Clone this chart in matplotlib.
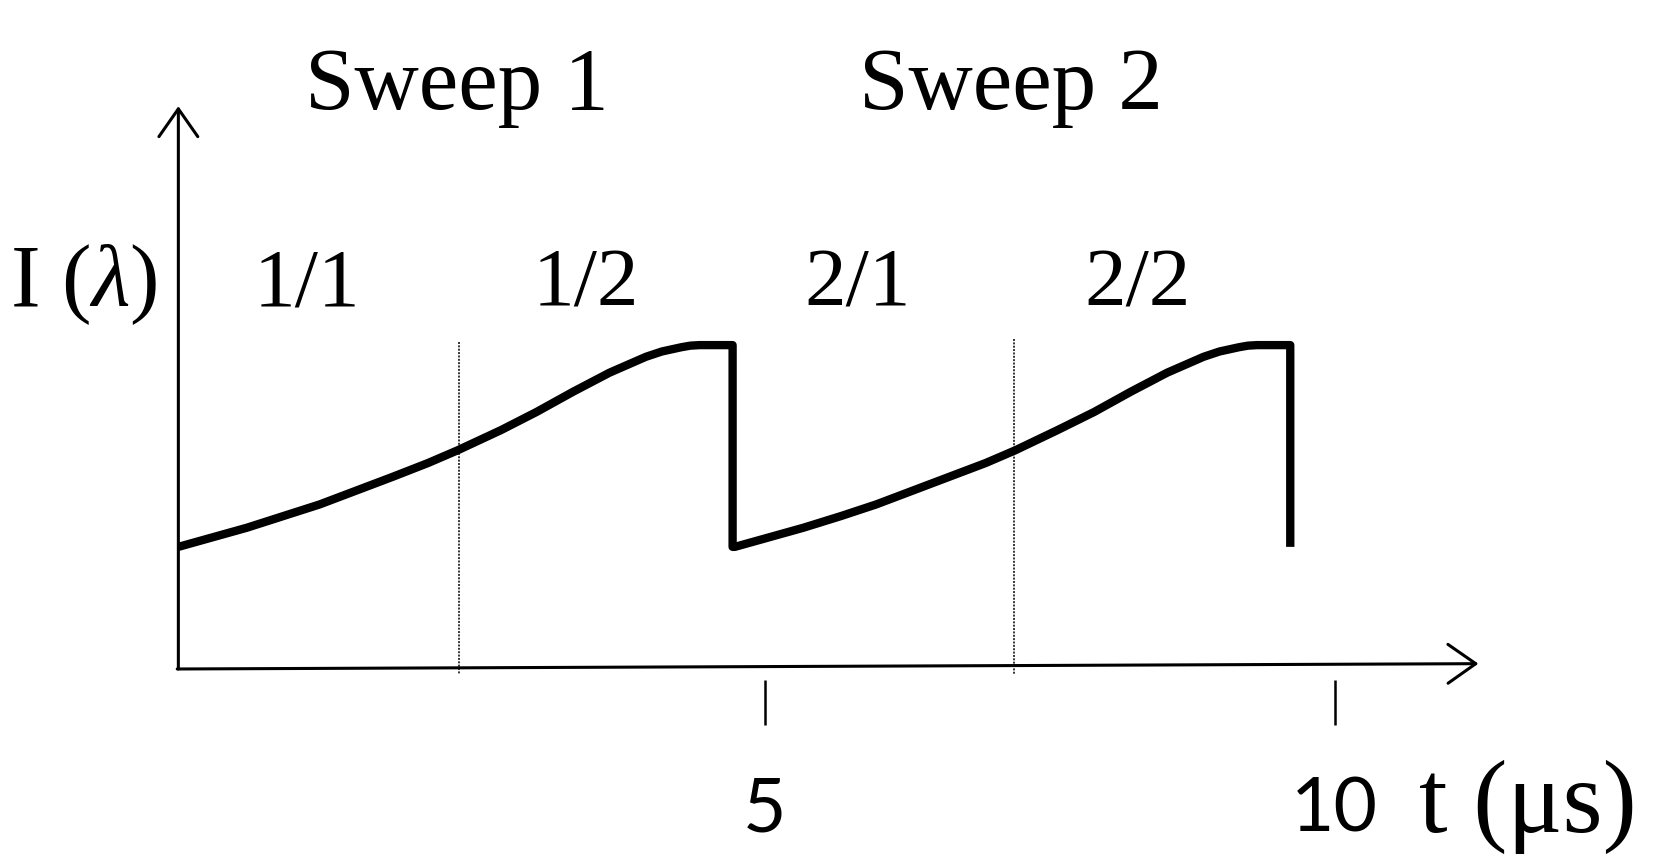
import matplotlib
matplotlib.use("Agg")
import matplotlib.pyplot as plt

plt.rcParams["mathtext.fontset"] = "custom"
plt.rcParams["mathtext.rm"] = "Liberation Serif"
plt.rcParams["mathtext.it"] = "Liberation Serif:italic"

SERIF = "Liberation Serif"
SANS = "Lato"

# intensity during sweep 1 (t in us, I in arbitrary units)
sweep1_t = [-0.14, 0.46, 0.78, 1.10, 1.42, 1.74, 2.05, 2.31, 2.69, 3.00,
            3.32, 3.64, 3.96, 4.10, 4.27, 4.35, 4.43, 4.72]
sweep1_i = [1.15, 1.33, 1.44, 1.55, 1.68, 1.81, 1.94, 2.06, 2.25, 2.42,
            2.61, 2.79, 2.94, 2.99, 3.03, 3.045, 3.05, 3.05]

# intensity during sweep 2
sweep2_t = [4.74, 5.34, 5.67, 5.98, 6.30, 6.62, 6.94, 7.20, 7.57, 7.89,
            8.21, 8.53, 8.85, 8.99, 9.16, 9.24, 9.32, 9.61]
sweep2_i = [1.15, 1.33, 1.44, 1.55, 1.68, 1.81, 1.94, 2.06, 2.25, 2.42,
            2.61, 2.79, 2.94, 2.99, 3.03, 3.045, 3.05, 3.05]

# baseline the curve falls back to at the end of each sweep
reset_level = 1.15

# half-sweep boundaries (dotted) and their top
half_marks = [2.32, 7.19]
half_tops = [3.08, 3.11]

tick_pos = [5, 10]
tick_labels = ["5", "10"]

sweep_names = ["Sweep 1", "Sweep 2"]
sweep_centers = [2.30, 7.16]
part_names = ["1/1", "1/2", "2/1", "2/2"]
part_centers = [0.99, 3.43, 5.82, 8.27]

fig = plt.figure(figsize=(16.65, 8.58), dpi=100)
ax = fig.add_axes([0, 0, 1, 1])
ax.set_xlim(-1.704, 12.896)
ax.set_ylim(-1.78, 6.30)
ax.axis("off")

# axes drawn as arrows
t0 = sweep1_t[0]
arrow = dict(arrowstyle="->,head_length=1.0,head_width=0.7", lw=2.2,
             color="black", mutation_scale=20, shrinkA=0, shrinkB=0)
ax.annotate("", xy=(t0, 5.30), xytext=(t0, 0.0), arrowprops=arrow)
ax.annotate("", xy=(11.26, 0.05), xytext=(t0 - 0.01, 0.0), arrowprops=arrow)

# ticks
for tp in tick_pos:
    ax.plot([tp, tp], [-0.10, -0.53], color="black", lw=1.8, solid_capstyle="butt")

# dotted half-sweep markers
for hm, top in zip(half_marks, half_tops):
    ax.plot([hm, hm], [top, -0.05], color="black", lw=1.1, linestyle=(0, (1.3, 0.9)))

# intensity curve: sweep 1, reset, sweep 2, reset
curve_t = sweep1_t + [sweep1_t[-1]] + sweep2_t + [sweep2_t[-1]]
curve_i = sweep1_i + [reset_level] + sweep2_i + [reset_level]
ax.plot(curve_t, curve_i, color="black", lw=6.0, solid_joinstyle="round",
        solid_capstyle="butt")

# labels
for name, c in zip(sweep_names, sweep_centers):
    ax.text(c, 5.27, name, family=SERIF, fontsize=64, ha="center", va="baseline")
for name, c in zip(part_names, part_centers):
    ax.text(c, 3.42, name, family=SERIF, fontsize=60, ha="center", va="baseline")

ax.text(-1.62, 3.42, r"I ($\mathit{\lambda}$)", family=SERIF, fontsize=64,
        ha="left", va="baseline")

for tp, lab in zip(tick_pos, tick_labels):
    ax.text(tp, -1.53, lab, family=SANS, fontsize=54, ha="center", va="baseline")
ax.text(10.74, -1.53, "t (\u03bcs)", family=SERIF, fontsize=74, ha="left", va="baseline")

fig.savefig("out.png", dpi=100, facecolor="white")
